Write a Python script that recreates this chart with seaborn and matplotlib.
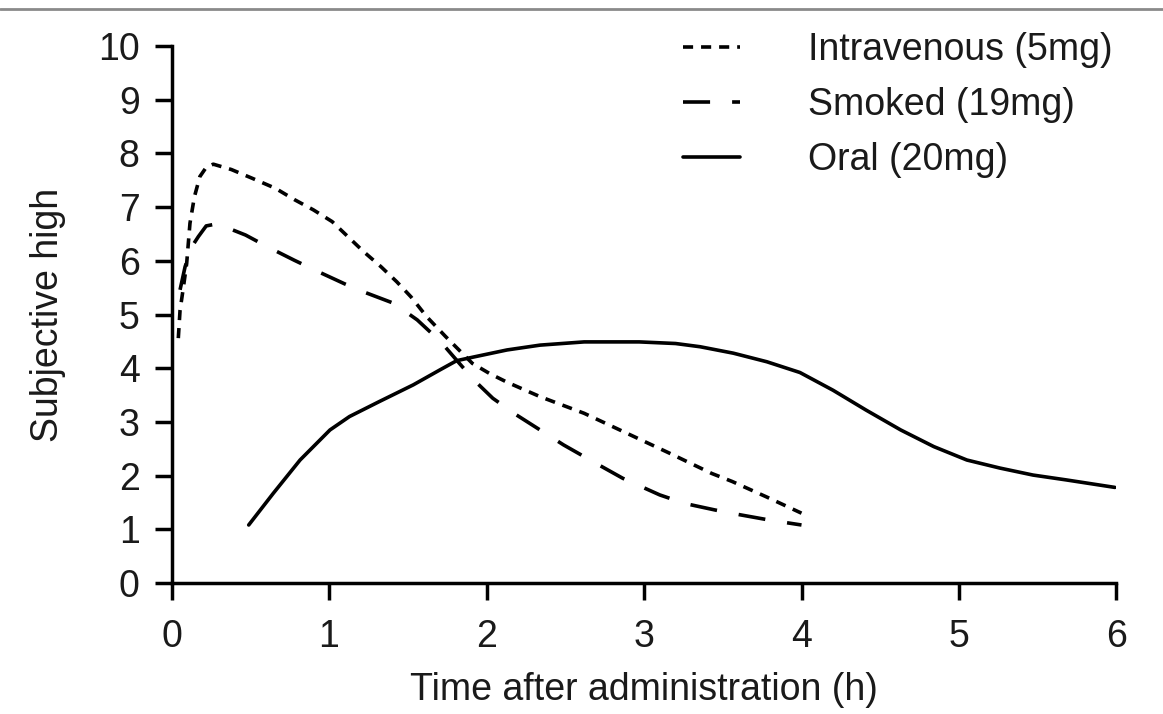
import numpy as np
import pandas as pd
import matplotlib
matplotlib.use("Agg")
import matplotlib.pyplot as plt
import seaborn as sns
from matplotlib.lines import Line2D

# values
iv_time = [0.043, 0.054, 0.075, 0.096, 0.117, 0.145, 0.18, 0.22, 0.265, 0.38, 0.51, 0.66,
           0.78, 0.90, 1.02, 1.12, 1.22, 1.33, 1.43, 1.52, 1.62, 1.74, 1.91, 2.02, 2.13,
           2.34, 2.62, 2.89, 3.16, 3.43, 3.56, 3.78, 4.0]
iv_high = [4.56, 5.08, 5.5, 5.95, 6.70, 7.19, 7.57, 7.74, 7.80, 7.70, 7.54, 7.35,
           7.14, 6.95, 6.73, 6.45, 6.17, 5.89, 5.61, 5.33, 4.96, 4.59, 4.09, 3.90, 3.74,
           3.47, 3.16, 2.79, 2.42, 2.04, 1.89, 1.60, 1.30]

smoked_time = [0.054, 0.086, 0.128, 0.17, 0.22, 0.29, 0.47, 0.61, 0.78, 0.93, 1.10, 1.23,
               1.41, 1.56, 1.71, 1.81, 1.92, 2.04, 2.19, 2.34, 2.49, 2.70, 2.865, 3.10,
               3.26, 3.45, 3.61, 3.80, 4.0]
smoked_high = [5.46, 5.89, 6.26, 6.45, 6.65, 6.69, 6.48, 6.26, 6.01, 5.80, 5.57, 5.41,
               5.21, 4.90, 4.49, 4.15, 3.78, 3.44, 3.13, 2.85, 2.57, 2.22, 1.95, 1.64,
               1.48, 1.36, 1.27, 1.17, 1.08]

oral_time = [0.49, 0.646, 0.816, 1.006, 1.13, 1.32, 1.535, 1.705, 1.81, 1.92, 2.13, 2.34,
             2.62, 2.97, 3.20, 3.356, 3.567, 3.78, 3.99, 4.20, 4.41, 4.63, 4.84, 5.05,
             5.26, 5.47, 5.68, 5.99]
oral_high = [1.08, 1.67, 2.29, 2.85, 3.10, 3.38, 3.69, 3.97, 4.14, 4.21, 4.34, 4.43,
             4.49, 4.49, 4.46, 4.40, 4.28, 4.12, 3.92, 3.59, 3.22, 2.85, 2.54, 2.29,
             2.14, 2.01, 1.92, 1.78]

labels = ["Intravenous (5mg)", "Smoked (19mg)", "Oral (20mg)"]

df = pd.concat([
    pd.DataFrame({"time": iv_time, "high": iv_high, "route": labels[0]}),
    pd.DataFrame({"time": smoked_time, "high": smoked_high, "route": labels[1]}),
    pd.DataFrame({"time": oral_time, "high": oral_high, "route": labels[2]}),
])

sns.set_style("ticks")
plt.rcParams["font.family"] = ["Liberation Sans", "DejaVu Sans"]
plt.rcParams["lines.solid_capstyle"] = "round"
plt.rcParams["lines.dash_capstyle"] = "butt"

fig = plt.figure(figsize=(11.63, 7.14), dpi=100)
ax = fig.add_axes([0.1475, 0.1835, 0.8125, 0.752])

lw = 2.6
dash_map = {labels[0]: (2.8, 2.2), labels[1]: (7.5, 6.1), labels[2]: ""}
sns.lineplot(data=df, x="time", y="high", style="route", dashes=dash_map,
             color="black", linewidth=lw, ax=ax, legend=False, estimator=None)

ax.set_xlim(0, 6)
ax.set_ylim(0, 10)
ax.set_xticks(range(0, 7))
ax.set_yticks(range(0, 11))
sns.despine(ax=ax)
for s in ["left", "bottom"]:
    ax.spines[s].set_linewidth(2.5)
    ax.spines[s].set_color("black")
ax.tick_params(axis="both", length=12, width=2.5, color="black",
               labelsize=27, labelcolor="#1a1a1a")
ax.tick_params(axis="x", pad=14)
ax.tick_params(axis="y", pad=11)
ax.set_xlabel("Time after administration (h)", fontsize=27, color="#1a1a1a", labelpad=12)
ax.set_ylabel("Subjective high", fontsize=27, color="#1a1a1a", labelpad=23)

handles = [Line2D([], [], color="black", linewidth=lw, dashes=dash_map[labels[0]]),
           Line2D([], [], color="black", linewidth=lw, dashes=dash_map[labels[1]]),
           Line2D([], [], color="black", linewidth=lw)]
fig.legend(handles, labels, loc="upper left", bbox_to_anchor=(0.5873, 0.955),
           frameon=False, fontsize=27, handlelength=1.52, handletextpad=1.8,
           labelspacing=0.51, borderpad=0, borderaxespad=0, labelcolor="#1a1a1a")

# thin rule across the top of the figure
fig.add_artist(Line2D([0, 1], [1 - 9 / 714, 1 - 9 / 714], transform=fig.transFigure,
                      color="#8a8a8a", linewidth=2.0))

fig.savefig("out.png", dpi=100)
